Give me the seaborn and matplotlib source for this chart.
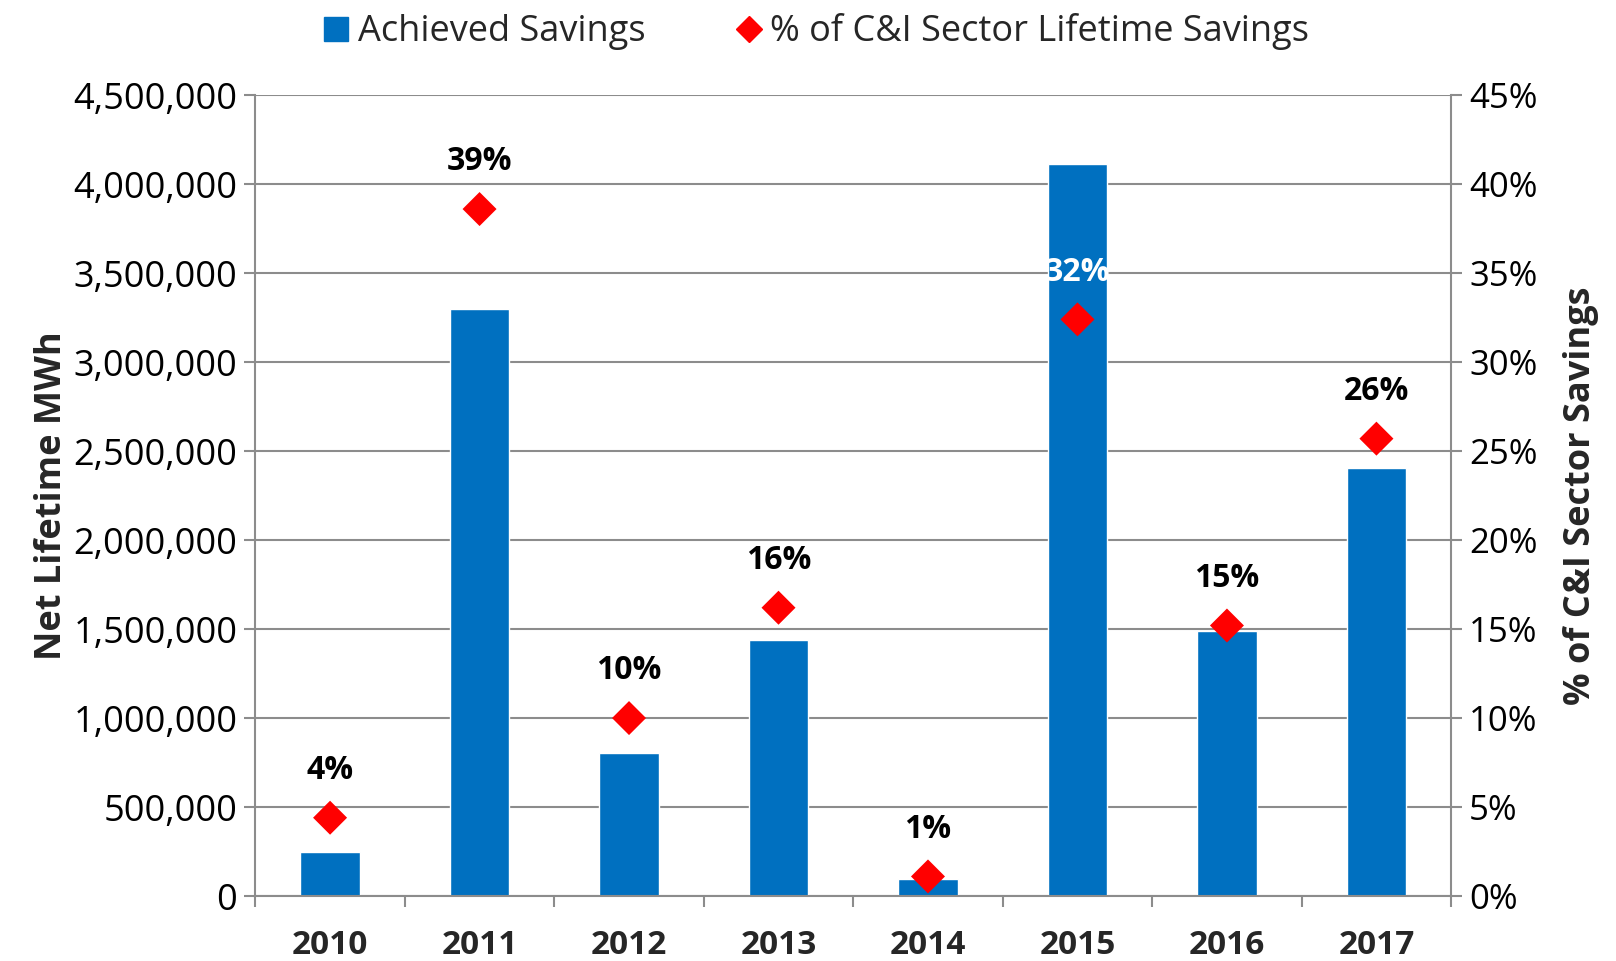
import numpy as np
import pandas as pd
import seaborn as sns
import matplotlib.pyplot as plt
from matplotlib.lines import Line2D
from matplotlib.ticker import FuncFormatter, MultipleLocator

years = ['2010', '2011', '2012', '2013', '2014', '2015', '2016', '2017']
achieved_mwh = [250000, 3300000, 805000, 1440000, 98000, 4115000, 1488000, 2403000]
pct_ci = [4.4, 38.6, 10.0, 16.2, 1.1, 32.4, 15.2, 25.7]
pct_labels = ['4%', '39%', '10%', '16%', '1%', '32%', '15%', '26%']

df = pd.DataFrame({'year': years, 'mwh': achieved_mwh, 'pct': pct_ci})

sns.set_style('white')
plt.rcParams['font.family'] = ['Open Sans', 'DejaVu Sans']

blue = '#0070C0'
grid_col = '#8c8c8c'

fig = plt.figure(figsize=(16.16, 9.61), dpi=100)
ax = fig.add_axes([0.158, 0.0676, 0.740, 0.8334])

sns.barplot(data=df, x='year', y='mwh', color=blue, width=0.4,
            saturation=1, ax=ax, zorder=2)
ax.set_ylim(0, 4500000)
ax.set_xlim(-0.5, len(years) - 0.5)
ax.yaxis.set_major_locator(MultipleLocator(500000))
ax.yaxis.set_major_formatter(FuncFormatter(lambda v, p: f'{int(v):,}'))
ax.grid(axis='y', color=grid_col, lw=1.5, zorder=0)
ax.set_axisbelow(True)
for s in ['top', 'right']:
    ax.spines[s].set_visible(False)
for s in ['left', 'bottom']:
    ax.spines[s].set_color(grid_col)
    ax.spines[s].set_linewidth(1.5)
ax.tick_params(axis='y', labelsize=26, length=8, color=grid_col, width=1.5,
               left=True, labelcolor='black', pad=5)
ax.set_xticks(np.arange(len(years)))
ax.set_xticklabels(years, fontsize=24, fontweight='bold')
ax.set_xticks(np.arange(len(years) + 1) - 0.5, minor=True)
ax.tick_params(axis='x', which='major', length=0, pad=24)
ax.tick_params(axis='x', which='minor', length=8, color=grid_col, width=1.5,
               bottom=True)
ax.set_xlabel('')
ax.set_ylabel('Net Lifetime MWh', fontsize=26, fontweight='bold', labelpad=2)

ax2 = ax.twinx()
xpos = np.arange(len(years))
sns.scatterplot(x=xpos, y=df['pct'], marker='D', color='red', s=300,
                edgecolor='none', ax=ax2, zorder=3)
ax2.set_ylim(0, 45)
ax2.yaxis.set_major_locator(MultipleLocator(5))
ax2.yaxis.set_major_formatter(FuncFormatter(lambda v, p: f'{int(v)}%'))
for s in ['top', 'left', 'bottom']:
    ax2.spines[s].set_visible(False)
ax2.spines['right'].set_color(grid_col)
ax2.spines['right'].set_linewidth(1.5)
ax2.tick_params(axis='y', labelsize=25, length=8, color=grid_col, width=1.5,
                right=True, labelcolor='black', pad=5)
ax2.set_ylabel('% of C&I Sector Savings', fontsize=26, fontweight='bold',
               labelpad=18)

for i, (v, lab) in enumerate(zip(pct_ci, pct_labels)):
    col = 'white' if years[i] == '2015' else 'black'
    ax2.annotate(lab, (i, v), xytext=(0, 34), textcoords='offset points',
                 ha='center', va='center', fontsize=23, fontweight='bold',
                 color=col, zorder=4)

handles = [
    Line2D([], [], marker='s', color=blue, ls='none', markersize=17),
    Line2D([], [], marker='D', color='red', ls='none', markersize=13),
]
fig.legend(handles, ['Achieved Savings', '% of C&I Sector Lifetime Savings'],
           loc='upper center', bbox_to_anchor=(0.503, 1.02), ncol=2,
           frameon=False, fontsize=26, handletextpad=0.05, columnspacing=2.3,
           handlelength=1.1)

fig.savefig('out.png', dpi=100)
